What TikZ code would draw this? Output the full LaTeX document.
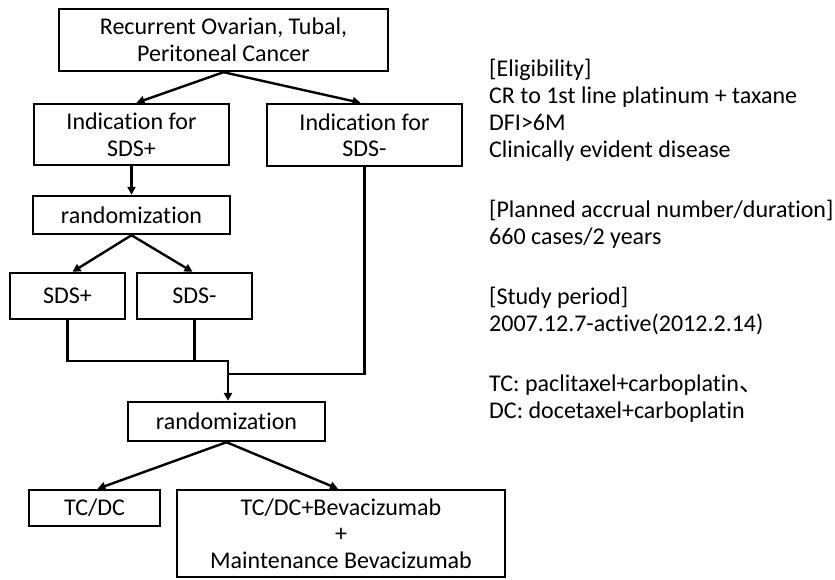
\documentclass[tikz,border=0pt]{standalone}
\usepackage{fontspec}
\setmainfont[RawFeature={-liga}]{Carlito}
\newfontfamily\cjkfont{Noto Sans CJK JP}
\usetikzlibrary{arrows.meta}
\begin{document}
\begin{tikzpicture}[x=1pt,y=-1pt,
 box/.style={draw,line width=2.4pt,align=center,inner sep=0pt,font=\fontsize{24}{26.5}\selectfont},
 conn/.style={line width=2.4pt},
 arr/.style={conn,-{Triangle[length=8pt,width=8pt]}},
 info/.style={anchor=base west,inner sep=0pt,font=\fontsize{24}{27}\selectfont}]
\useasboundingbox (0,0) rectangle (835,579);
\node[box,minimum width=329pt,minimum height=62pt] (top) at (223.5,40) {Recurrent Ovarian, Tubal,\\Peritoneal Cancer};
\node[box,minimum width=195pt,minimum height=61pt] (indL) at (131.5,134.5) {Indication for\\SDS+};
\node[box,minimum width=195pt,minimum height=62pt] (indR) at (364.5,135) {Indication for\\SDS-};
\node[box,minimum width=197pt,minimum height=38pt] (rand1) at (131.5,215) {randomization};
\node[box,minimum width=115pt,minimum height=46pt] (sdsP) at (67.5,296) {SDS+};
\node[box,minimum width=115pt,minimum height=46pt] (sdsM) at (194.5,296) {SDS-};
\node[box,minimum width=197pt,minimum height=39pt] (rand2) at (226.5,421.5) {randomization};
\node[box,minimum width=131pt,minimum height=36pt] (tcdc) at (94.5,508) {TC/DC};
\node[box,minimum width=328pt,minimum height=87pt] (bev) at (341,533.5) {TC/DC+Bevacizumab\\+\\Maintenance Bevacizumab};
\coordinate (m) at (228,361);
\coordinate (j) at (228,374);
\draw[arr] (top.south) -- ([xshift=5pt]indL.north);
\draw[arr] (top.south) -- ([xshift=-4pt]indR.north);
\draw[arr] (indL.south) -- (rand1.north);
\draw[arr] (rand1.south) -- ([xshift=5pt]sdsP.north);
\draw[arr] (rand1.south) -- ([xshift=-2pt]sdsM.north);
\draw[arr] (sdsP.south) |- (m) -- (m |- rand2.north);
\draw[conn] (sdsM.south) -- (sdsM.south |- m);
\draw[conn] (indR.south) |- (j);
\draw[arr] (rand2.south) -- ([xshift=3pt]tcdc.north);
\draw[arr] (rand2.south) -- ([xshift=-3pt]bev.north);
\node[info] (e1) at (489,76) {[Eligibility]};
\node[info] (e2) at (489,103) {CR to 1st line platinum + taxane};
\node[info] (e3) at (489,130) {DFI>6M};
\node[info] (e4) at (489,157) {Clinically evident disease};
\node[info] (p1) at (489,217) {[Planned accrual number/duration]};
\node[info] (p2) at (489,244) {660 cases/2 years};
\node[info] (s1) at (489,304) {[Study period]};
\node[info] (s2) at (489,331) {2007.12.7-active(2012.2.14)};
\node[info] (t1) at (489,391) {TC: paclitaxel+carboplatin{\cjkfont 、}};
\node[info] (t2) at (489,418) {DC: docetaxel+carboplatin};
\end{tikzpicture}
\end{document}
